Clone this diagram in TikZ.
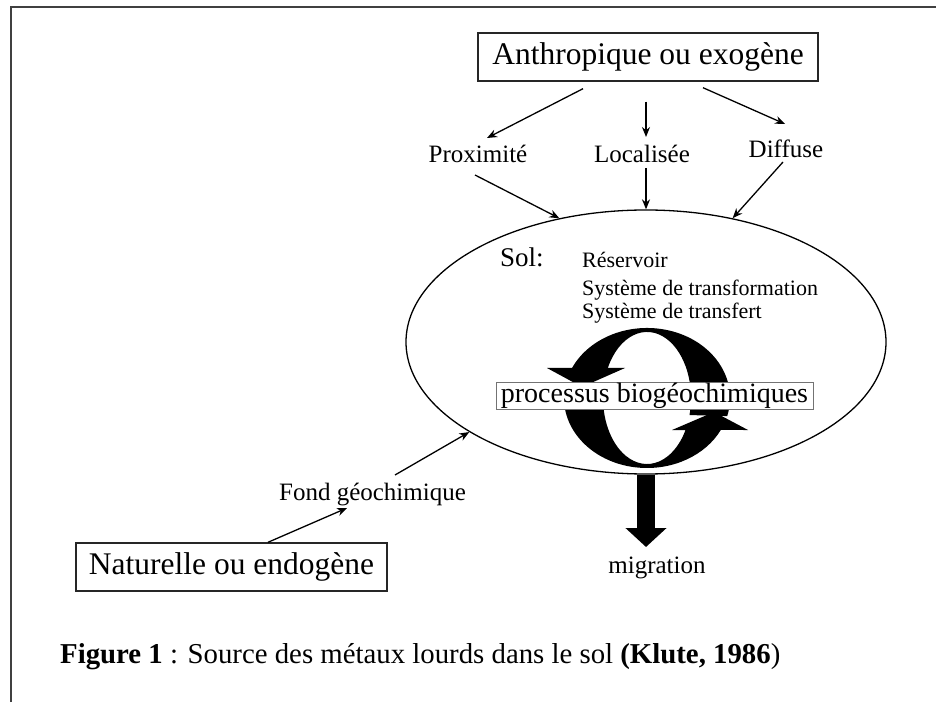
\documentclass[tikz,border=0pt]{standalone}
\usepackage{fontspec}
\setmainfont{Liberation Serif}
\usetikzlibrary{arrows.meta,shapes.geometric}
\begin{document}
\begin{tikzpicture}[x=1pt,y=1pt,
  srcbox/.style={draw=black!85, line width=1.4pt, minimum height=48pt, inner sep=0pt, font=\fontsize{31.5}{36}\selectfont},
  lbl/.style={inner sep=0pt, anchor=base, font=\fontsize{25}{30}\selectfont},
  lst/.style={inner sep=0pt, anchor=base west, font=\fontsize{22}{26}\selectfont},
  arr/.style={line width=1.3pt, -{Stealth[length=10pt,width=8pt]}},
  band/.style={fill=black}]
\useasboundingbox (0,0) rectangle (936,702);
\draw[line width=2.2pt, black!75] (11,0) -- (11,695) -- (936,695);

% sources and labels
\node[srcbox, minimum width=340pt] (anthro) at (648,645) {Anthropique ou exogène};
\node[lbl] (prox) at (478,539) {Proximité};
\node[lbl] (loc) at (642,539) {Localisée};
\node[lbl] (diff) at (786,544) {Diffuse};

% soil ellipse
\node[ellipse, draw, line width=1.3pt, minimum width=480pt, minimum height=264pt, inner sep=0pt] (sol) at (646,360) {};

% circular arrows
\fill[band] (727.2,285.9) arc[start angle=-15, end angle=154.6, x radius=83, y radius=70]
  -- (547,334) -- (582,315) -- (625,334) -- (607.8,334)
  arc[start angle=153, end angle=-15, x radius=44, y radius=66] -- cycle;
\fill[band] (564.3,310.1) arc[start angle=175, end angle=332.8, x radius=83, y radius=70]
  -- (748,272) -- (714,290) -- (672,272) -- (685.5,272)
  arc[start angle=331, end angle=175, x radius=44, y radius=66] -- cycle;

\node[draw=black!55, line width=0.8pt, fill=white, minimum width=317pt, minimum height=27pt, inner sep=0pt, font=\fontsize{28}{30}\selectfont] (proc) at (654.5,306.5) {processus biogéochimiques};

\node[inner sep=0pt, anchor=base west, font=\fontsize{27}{30}\selectfont] (soltxt) at (500,435) {Sol:};
\node[lst] (res) at (582,434) {Réservoir};
\node[lst] (trf) at (582,406) {Système de transformation};
\node[lst] (trs) at (582,383) {Système de transfert};

% migration
\node[lbl] (mig) at (657,129) {migration};
\draw[line width=18pt, -{Triangle[length=19pt,width=40pt]}] (sol.south) -- ([yshift=26pt]mig.base -| sol.south);

% natural source
\node[srcbox, minimum width=311pt] (nat) at (231.5,135) {Naturelle ou endogène};
\node[lbl] (fond) at (372.5,202) {Fond géochimique};

% connectors
\draw[arr] ([xshift=-65pt,yshift=-7pt]anthro.south) -- ([shift={(9pt,25pt)}]prox.base);
\draw[arr] ([yshift=-20pt]anthro.south -| sol.north) -- ([yshift=26pt]loc.base -| sol.north);
\draw[arr] ([xshift=55pt,yshift=-6pt]anthro.south) -- ([shift={(-1pt,34pt)}]diff.base);
\draw[arr] ([shift={(-3pt,-12pt)}]prox.base) -- (sol.125.8);
\draw[arr] ([yshift=-5pt]loc.base -| sol.north) -- (sol.north);
\draw[arr] ([shift={(-3pt,-4pt)}]diff.base) -- (sol.55.7);
\draw[arr] ([xshift=36.5pt]nat.north) -- ([shift={(-25.5pt,-8pt)}]fond.base);
\draw[arr] ([shift={(22.5pt,25pt)}]fond.base) -- (sol.207.3);

% caption
\node[inner sep=0pt, anchor=base west, font=\fontsize{28.8}{34}\selectfont] (cap) at (60,39) {\textbf{Figure 1} : Source des métaux lourds dans le sol \textbf{(Klute, 1986})};
\end{tikzpicture}
\end{document}
